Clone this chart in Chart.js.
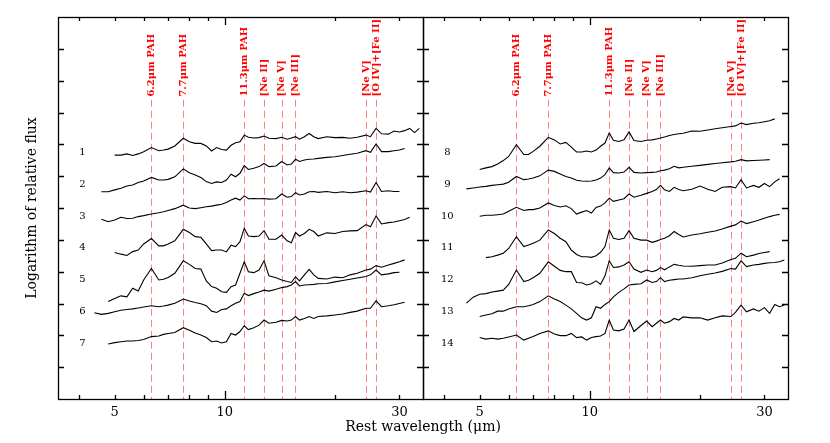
<!DOCTYPE html>
<html>
<head>
<meta charset="utf-8">
<script src="https://cdn.jsdelivr.net/npm/chart.js@4.4.1/dist/chart.umd.min.js"></script>
<style>
  body { margin: 0; background: #fff; }
  #wrap { position: relative; width: 830px; height: 443px; }
  #wrap canvas { position: absolute; left: 0; top: 0; }
</style>
</head>
<body>
<div id="wrap">
  <canvas id="leftChart" width="830" height="443"></canvas>
  <canvas id="rightChart" width="830" height="443"></canvas>
</div>
<script>
// rest wavelength grid (micron), shared by all spectra
const wavelength = [
  4.2, 4.4, 4.6, 4.8, 5.0, 5.2, 5.4, 5.6, 5.8, 6.0,
  6.3, 6.6, 6.8, 7.0, 7.3, 7.7, 8.0, 8.3, 8.6, 8.9,
  9.2, 9.5, 9.8, 10.1, 10.4, 10.7, 11.0, 11.3, 11.6, 12.0,
  12.4, 12.8, 13.2, 13.8, 14.3, 14.8, 15.2, 15.6, 16.0, 16.5,
  17.0, 17.5, 18.0, 19, 20, 21, 22, 23, 24.3, 25.0,
  25.9, 26.8, 28, 29, 30, 31, 32, 33, 34
];

// log relative flux, offset per spectrum
const spec1 = [
  null, null, null, null, 7.66, 7.66, 7.70, 7.65, 7.70, 7.77,
  7.90, 7.80, 7.82, 7.85, 7.95, 8.19, 8.08, 8.03, 8.03, 7.95,
  7.79, 7.90, 7.84, 7.82, 7.97, 8.05, 8.08, 8.29, 8.22, 8.20,
  8.21, 8.26, 8.19, 8.18, 8.22, 8.16, 8.20, 8.24, 8.16, 8.24,
  8.34, 8.24, 8.18, 8.24, 8.21, 8.22, 8.19, 8.22, 8.29, 8.24,
  8.50, 8.33, 8.32, 8.42, 8.39, 8.43, 8.50, 8.37, 8.50
];
const spec2 = [
  null, null, 6.51, 6.51, 6.57, 6.62, 6.69, 6.72, 6.80, 6.85,
  6.96, 6.88, 6.88, 6.90, 6.98, 7.23, 7.11, 7.04, 6.96, 6.83,
  6.77, 6.82, 6.80, 6.88, 7.06, 6.98, 7.09, 7.33, 7.21, 7.25,
  7.30, 7.40, 7.30, 7.32, 7.46, 7.35, 7.38, 7.53, 7.46, 7.51,
  7.53, 7.54, 7.56, 7.59, 7.61, 7.65, 7.69, 7.72, 7.80, 7.75,
  8.01, 7.77, 7.77, 7.80, 7.82, 7.87, null, null, null
];
const spec3 = [
  null, null, 5.65, 5.57, 5.62, 5.71, 5.67, 5.68, 5.73, 5.76,
  5.81, 5.85, 5.88, 5.92, 5.98, 6.09, 6.00, 5.98, 6.01, 6.04,
  6.06, 6.09, 6.12, 6.17, 6.25, 6.31, 6.25, 6.38, 6.29, 6.30,
  6.29, 6.30, 6.28, 6.29, 6.44, 6.34, 6.36, 6.48, 6.41, 6.44,
  6.51, 6.52, 6.49, 6.52, 6.48, 6.51, 6.48, 6.50, 6.54, 6.50,
  6.80, 6.52, 6.54, 6.52, 6.52, null, null, null, null
];
const spec4 = [
  null, null, null, null, 4.60, 4.55, 4.51, 4.63, 4.68, 4.87,
  5.04, 4.81, 4.81, 4.87, 4.97, 5.33, 5.23, 5.10, 5.08, 4.87,
  4.66, 4.68, 4.68, 4.62, 4.83, 4.79, 4.94, 5.36, 5.12, 5.10,
  5.12, 5.29, 5.02, 5.02, 5.15, 4.97, 4.91, 5.23, 5.12, 5.20,
  5.33, 5.26, 5.12, 5.22, 5.20, 5.26, 5.28, 5.29, 5.48, 5.41,
  5.75, 5.50, 5.54, 5.56, 5.60, 5.64, 5.71, null, null
];
const spec5 = [
  null, null, null, 3.06, 3.16, 3.24, 3.21, 3.48, 3.39, 3.74,
  4.10, 3.74, 3.76, 3.82, 3.95, 4.34, 4.23, 4.10, 4.08, 3.71,
  3.53, 3.48, 3.37, 3.35, 3.53, 3.58, 3.95, 4.31, 4.00, 3.97,
  4.05, 4.34, 3.87, 3.81, 3.74, 3.69, 3.66, 3.84, 3.71, 3.90,
  4.07, 3.90, 3.79, 3.77, 3.83, 3.81, 3.90, 3.95, 4.05, 4.08,
  4.19, 4.14, 4.21, 4.26, 4.31, 4.37, null, null, null
];
const spec6 = [
  null, 2.71, 2.66, 2.69, 2.74, 2.79, 2.81, 2.83, 2.86, 2.89,
  2.93, 2.90, 2.92, 2.95, 3.01, 3.14, 3.08, 3.03, 2.99, 2.93,
  2.76, 2.72, 2.81, 2.83, 2.93, 3.01, 3.06, 3.32, 3.25, 3.31,
  3.36, 3.42, 3.39, 3.45, 3.50, 3.53, 3.58, 3.69, 3.55, 3.58,
  3.59, 3.60, 3.62, 3.63, 3.68, 3.72, 3.76, 3.80, 3.85, 3.90,
  4.05, 3.90, 3.93, 3.97, 3.98, null, null, null, null
];
const spec7 = [
  null, null, null, 1.73, 1.77, 1.80, 1.82, 1.82, 1.84, 1.87,
  1.96, 1.98, 2.03, 2.06, 2.09, 2.24, 2.16, 2.07, 2.01, 1.93,
  1.80, 1.82, 1.76, 1.80, 2.06, 2.01, 2.12, 2.30, 2.18, 2.24,
  2.32, 2.48, 2.38, 2.41, 2.47, 2.45, 2.48, 2.59, 2.48, 2.53,
  2.59, 2.53, 2.59, 2.61, 2.64, 2.67, 2.72, 2.76, 2.85, 2.85,
  3.08, 2.90, 2.93, 2.96, 3.00, 3.04, null, null, null
];
const spec8 = [
  null, null, null, null, 7.21, 7.26, 7.30, 7.38, 7.49, 7.62,
  7.99, 7.68, 7.68, 7.78, 7.94, 8.22, 8.14, 8.01, 8.06, 7.91,
  7.76, 7.76, 7.79, 7.76, 7.82, 7.94, 8.04, 8.36, 8.13, 8.09,
  8.14, 8.39, 8.12, 8.09, 8.13, 8.14, 8.17, 8.20, 8.23, 8.28,
  8.31, 8.33, 8.35, 8.42, 8.41, 8.45, 8.49, 8.52, 8.56, 8.58,
  8.67, 8.62, 8.66, 8.68, 8.71, 8.74, 8.80, null, null
];
const spec9 = [
  null, null, 6.60, 6.63, 6.66, 6.68, 6.71, 6.73, 6.75, 6.81,
  6.99, 6.89, 6.91, 6.94, 7.01, 7.19, 7.15, 7.07, 6.99, 6.94,
  6.87, 6.85, 6.84, 6.85, 6.88, 6.94, 7.05, 7.26, 7.11, 7.10,
  7.13, 7.28, 7.12, 7.10, 7.11, 7.12, 7.13, 7.17, 7.19, 7.23,
  7.31, 7.26, 7.28, 7.31, 7.34, 7.37, 7.40, 7.42, 7.45, 7.47,
  7.52, 7.48, 7.49, 7.50, 7.51, 7.52, null, null, null
];
const spec10 = [
  null, null, null, null, 5.74, 5.77, 5.77, 5.79, 5.81, 5.90,
  6.02, 5.92, 5.95, 5.95, 6.00, 6.16, 6.08, 6.03, 6.07, 5.98,
  5.81, 5.87, 5.92, 5.84, 6.02, 6.06, 6.16, 6.31, 6.21, 6.25,
  6.29, 6.44, 6.34, 6.40, 6.46, 6.52, 6.58, 6.71, 6.57, 6.52,
  6.65, 6.58, 6.54, 6.59, 6.69, 6.59, 6.52, 6.65, 6.67, 6.63,
  6.89, 6.63, 6.71, 6.65, 6.77, 6.67, 6.82, 6.92, null
];
const spec11 = [
  null, null, null, null, null, 4.44, 4.47, 4.52, 4.58, 4.73,
  5.10, 4.79, 4.84, 4.89, 4.99, 5.31, 5.20, 5.05, 4.94, 4.68,
  4.54, 4.47, 4.47, 4.45, 4.50, 4.61, 4.79, 5.31, 5.05, 5.01,
  5.05, 5.29, 5.05, 4.99, 4.99, 4.92, 4.96, 5.01, 5.05, 5.13,
  5.26, 5.17, 5.09, 5.15, 5.19, 5.24, 5.28, 5.34, 5.43, 5.47,
  5.59, 5.51, 5.57, 5.62, 5.68, 5.73, 5.77, 5.80, null
];
const spec12 = [
  null, null, 3.01, 3.20, 3.29, 3.31, 3.36, 3.39, 3.42, 3.60,
  4.05, 3.69, 3.73, 3.81, 3.95, 4.31, 4.17, 4.04, 4.00, 4.00,
  3.66, 3.65, 3.58, 3.62, 3.71, 3.60, 3.87, 4.34, 4.13, 4.15,
  4.21, 4.31, 4.08, 3.98, 4.05, 4.00, 4.04, 4.13, 4.06, 4.15,
  4.23, 4.20, 4.18, 4.17, 4.19, 4.21, 4.21, 4.27, 4.38, 4.42,
  4.58, 4.47, 4.52, 4.57, 4.60, 4.63, null, null, null
];
const spec13 = [
  null, null, null, null, 2.59, 2.64, 2.68, 2.76, 2.76, 2.83,
  2.90, 2.90, 2.93, 2.97, 3.06, 3.24, 3.14, 3.06, 2.95, 2.83,
  2.69, 2.55, 2.48, 2.55, 2.90, 2.85, 2.97, 3.06, 3.21, 3.35,
  3.46, 3.58, 3.60, 3.62, 3.74, 3.66, 3.69, 3.81, 3.69, 3.73,
  3.75, 3.77, 3.77, 3.81, 3.87, 3.92, 3.96, 4.01, 4.10, 4.08,
  4.34, 4.16, 4.21, 4.23, 4.26, 4.28, 4.29, 4.31, 4.37
];
const spec14 = [
  null, null, null, null, 1.93, 1.88, 1.91, 1.88, 1.91, 1.95,
  2.01, 1.85, 1.91, 1.96, 2.06, 2.14, 2.04, 1.99, 1.99, 2.06,
  1.93, 1.95, 1.85, 1.93, 1.96, 1.98, 2.06, 2.48, 2.17, 2.14,
  2.20, 2.48, 2.12, 2.31, 2.45, 2.27, 2.38, 2.48, 2.38, 2.43,
  2.53, 2.48, 2.58, 2.55, 2.55, 2.48, 2.55, 2.61, 2.59, 2.72,
  2.95, 2.74, 2.83, 2.76, 2.87, 2.69, 2.97, 2.90, 2.95
];

// spectral features marked with red dashed lines
const lineWaves = [6.3, 7.7, 11.3, 12.8, 14.3, 15.6, 24.3, 25.9];
const lineNames = ['6.2\u03bcm PAH', '7.7\u03bcm PAH', '11.3\u03bcm PAH', '[Ne II]', '[Ne V]', '[Ne III]', '[Ne V]', '[O IV]+[Fe II]'];

// spectrum numbers and where they sit
const leftNames = ['1', '2', '3', '4', '5', '6', '7'];
const rightNames = ['8', '9', '10', '11', '12', '13', '14'];
const labelLevels = [7.75, 6.75, 5.75, 4.75, 3.75, 2.75, 1.75];
const labelWave = 4.08;

// axis ticks
const tickLabels = [5, 10, 30];
const minorTicks = [4, 5, 6, 7, 8, 9, 20, 30];
const majorTicks = [10];
const yTicks = [1, 2, 3, 4, 5, 6, 7, 8, 9, 10, 11];

const serif = '"DejaVu Serif", "Liberation Serif", serif';

function makeData(specs) {
  return specs.map(function(s) {
    const pts = [];
    wavelength.forEach(function(w, i) {
      if (s[i] !== null) pts.push({ x: w, y: s[i] });
    });
    return { data: pts, borderColor: '#000', borderWidth: 1.1, pointRadius: 0, fill: false, tension: 0 };
  });
}

// red dashed lines under the spectra
const featurePlugin = {
  id: 'features',
  beforeDatasetsDraw(chart) {
    const ctx = chart.ctx, xs = chart.scales.x, ys = chart.scales.y, a = chart.chartArea;
    ctx.save();
    ctx.strokeStyle = '#ff8080';
    ctx.lineWidth = 1;
    ctx.setLineDash([7, 4]);
    lineWaves.forEach(function(w) {
      const x = Math.round(xs.getPixelForValue(w)) + 0.5;
      ctx.beginPath();
      ctx.moveTo(x, ys.getPixelForValue(9.4));
      ctx.lineTo(x, a.bottom);
      ctx.stroke();
    });
    ctx.restore();

    // rotated labels
    ctx.save();
    ctx.fillStyle = '#ff0000';
    ctx.font = 'bold 10px ' + serif;
    ctx.textAlign = 'left';
    ctx.textBaseline = 'middle';
    lineWaves.forEach(function(w, i) {
      ctx.save();
      ctx.translate(xs.getPixelForValue(w), ys.getPixelForValue(9.5));
      ctx.rotate(-Math.PI / 2);
      ctx.fillText(lineNames[i], 0, 0);
      ctx.restore();
    });
    ctx.restore();
  }
};

// frame, inward ticks, labels
const framePlugin = {
  id: 'frame',
  afterDraw(chart, args, opts) {
    const ctx = chart.ctx, xs = chart.scales.x, ys = chart.scales.y, a = chart.chartArea;
    ctx.save();
    ctx.strokeStyle = '#000';
    ctx.lineWidth = 1.3;
    ctx.strokeRect(a.left + 0.5, a.top + 0.5, a.right - a.left, a.bottom - a.top);

    ctx.beginPath();
    yTicks.forEach(function(v) {
      const y = Math.round(ys.getPixelForValue(v)) + 0.5;
      ctx.moveTo(a.left, y); ctx.lineTo(a.left + 6, y);
      ctx.moveTo(a.right, y); ctx.lineTo(a.right - 6, y);
    });
    minorTicks.forEach(function(w) {
      const x = Math.round(xs.getPixelForValue(w)) + 0.5;
      ctx.moveTo(x, a.bottom); ctx.lineTo(x, a.bottom - 4);
      ctx.moveTo(x, a.top); ctx.lineTo(x, a.top + 4);
    });
    majorTicks.forEach(function(w) {
      const x = Math.round(xs.getPixelForValue(w)) + 0.5;
      ctx.moveTo(x, a.bottom); ctx.lineTo(x, a.bottom - 8);
      ctx.moveTo(x, a.top); ctx.lineTo(x, a.top + 8);
    });
    ctx.stroke();

    ctx.fillStyle = '#000';
    ctx.textAlign = 'center';
    ctx.textBaseline = 'middle';
    ctx.font = '13px ' + serif;
    tickLabels.forEach(function(w) {
      ctx.fillText(String(w), xs.getPixelForValue(w), a.bottom + 14);
    });

    ctx.font = '10px ' + serif;
    opts.names.forEach(function(n, i) {
      ctx.fillText(n, xs.getPixelForValue(labelWave), ys.getPixelForValue(labelLevels[i]));
    });

    if (opts.titles) {
      ctx.font = '14px ' + serif;
      ctx.fillText('Rest wavelength (\u03bcm)', a.right, a.bottom + 28);
      ctx.save();
      ctx.translate(a.left - 26, (a.top + a.bottom) / 2);
      ctx.rotate(-Math.PI / 2);
      ctx.fillText('Logarithm of relative flux', 0, 0);
      ctx.restore();
    }
    ctx.restore();
  }
};

function makeChart(id, specs, names, padding, titles) {
  return new Chart(document.getElementById(id), {
    type: 'line',
    data: { datasets: makeData(specs) },
    options: {
      responsive: false,
      animation: false,
      events: [],
      layout: { padding: padding },
      plugins: {
        legend: { display: false },
        tooltip: { enabled: false },
        frame: { names: names, titles: titles }
      },
      scales: {
        x: { type: 'logarithmic', min: 3.5, max: 34.8, display: false },
        y: { type: 'linear', min: 0, max: 12, display: false }
      }
    },
    plugins: [featurePlugin, framePlugin]
  });
}

makeChart('leftChart', [spec1, spec2, spec3, spec4, spec5, spec6, spec7], leftNames,
  { left: 58, right: 407, top: 17, bottom: 44 }, true);
makeChart('rightChart', [spec8, spec9, spec10, spec11, spec12, spec13, spec14], rightNames,
  { left: 423, right: 42, top: 17, bottom: 44 }, false);
</script>
</body>
</html>
